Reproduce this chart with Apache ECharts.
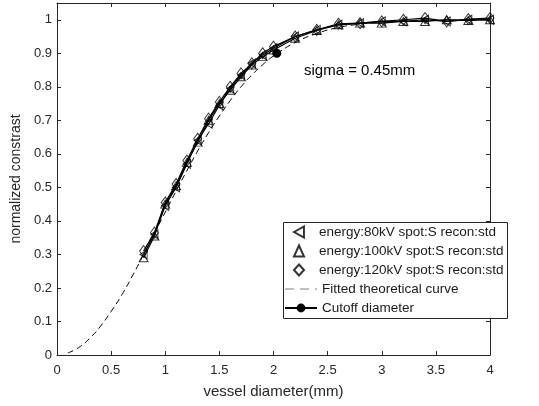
<!DOCTYPE html>
<html>
<head>
<meta charset="utf-8">
<script src="https://cdn.jsdelivr.net/npm/echarts@6/dist/echarts.min.js"></script>
<style>html,body{margin:0;padding:0;background:#fff}#c{width:539px;height:406px}</style>
</head>
<body>
<div id="c"></div>
<script>
const diam = [0.8,0.9,1.0,1.1,1.2,1.3,1.4,1.5,1.6,1.7,1.8,1.9,2.0,2.2,2.4,2.6,2.8,3.0,3.2,3.4,3.6,3.8,4.0];
const s80  = [0.30,0.36,0.445,0.50,0.57,0.64,0.69,0.745,0.795,0.835,0.87,0.895,0.915,0.95,0.97,0.985,0.99,0.995,0.995,1.0,0.995,1.0,1.0];
const s100 = [0.29,0.355,0.45,0.505,0.575,0.635,0.70,0.75,0.79,0.83,0.865,0.89,0.91,0.945,0.968,0.985,0.99,0.99,0.995,0.995,1.0,0.998,1.0];
const s120 = [0.31,0.365,0.455,0.51,0.58,0.645,0.705,0.755,0.80,0.84,0.87,0.90,0.92,0.95,0.97,0.988,0.99,0.995,1.0,1.005,0.995,1.002,1.005];
const fitX = [0.1,0.2,0.3,0.4,0.5,0.6,0.7,0.8,0.9,1.0,1.1,1.2,1.3,1.4,1.5,1.6,1.7,1.8,1.9,2.0,2.2,2.4,2.6,2.8,3.0,3.3,3.6,4.0];
const fitY = [0.006,0.022,0.049,0.085,0.13,0.18,0.238,0.30,0.363,0.426,0.489,0.55,0.609,0.663,0.713,0.759,0.80,0.835,0.866,0.892,0.932,0.959,0.977,0.987,0.993,0.998,0.999,1.0];
const cutoffX = [2.03];
const cutoffY = [0.9];
const xTicks = [0,0.5,1,1.5,2,2.5,3,3.5,4];
const yTicks = [0,0.1,0.2,0.3,0.4,0.5,0.6,0.7,0.8,0.9,1];
const names = ['energy:80kV spot:S recon:std','energy:100kV spot:S recon:std','energy:120kV spot:S recon:std','Fitted theoretical curve','Cutoff diameter'];

const pair = (xs, ys) => xs.map((x, i) => [x, ys[i]]);
const font = 'Liberation Sans, Arial, sans-serif';
const leftTri = 'path://M0,5 L9,0 L9,10 Z';
const hollow = {color: 'rgba(0,0,0,0)', borderColor: '#000', borderWidth: 1};

const chart = echarts.init(document.getElementById('c'), null, {renderer: 'canvas'});
const axisCommon = {
  axisLine: {show: true, onZero: false, lineStyle: {color: '#262626', width: 1}},
  axisTick: {show: true, inside: true, length: 4, lineStyle: {color: '#262626'}},
  splitLine: {show: false}
};
const legendText = {fontFamily: font, fontSize: 13.5, color: '#1a1a1a', lineHeight: 16};
chart.setOption({
  animation: false,
  backgroundColor: '#fff',
  grid: {left: 57, right: 49, top: 3, bottom: 51, containLabel: false},
  xAxis: [
    Object.assign({type: 'value', min: 0, max: 4, interval: 0.5, position: 'bottom',
      name: 'vessel diameter(mm)', nameLocation: 'middle', nameGap: 29,
      nameTextStyle: {fontFamily: font, fontSize: 15, color: '#262626'},
      axisLabel: {fontFamily: font, fontSize: 13, color: '#262626', margin: 9,
        formatter: v => xTicks.includes(v) ? String(v) : ''}}, axisCommon),
    Object.assign({type: 'value', min: 0, max: 4, interval: 0.5, position: 'top',
      axisLabel: {show: false}}, axisCommon)
  ],
  yAxis: [
    Object.assign({type: 'value', min: 0, max: 1.05, interval: 0.1, position: 'left',
      name: 'normalized constrast', nameLocation: 'middle', nameGap: 29,
      nameTextStyle: {fontFamily: font, fontSize: 14, color: '#262626'},
      axisLabel: {fontFamily: font, fontSize: 13, color: '#262626', margin: 5, showMaxLabel: false,
        formatter: v => { const r = Math.round(v * 10) / 10; return yTicks.some(t => Math.abs(t - v) < 1e-6) ? String(r) : ''; }}}, axisCommon),
    Object.assign({type: 'value', min: 0, max: 1.05, interval: 0.1, position: 'right',
      axisLabel: {show: false}}, axisCommon)
  ],
  legend: [
    {orient: 'vertical', left: 293, top: 224, itemWidth: 10, itemHeight: 11, itemGap: 3,
      padding: 0, textStyle: Object.assign({padding: [0, 0, 0, 10]}, legendText),
      data: names.slice(0, 3), z: 10},
    {orient: 'vertical', left: 284, top: 281, itemWidth: 32, itemHeight: 11, itemGap: 3,
      padding: 0, textStyle: legendText,
      data: [{name: names[3], lineStyle: {color: '#808080', type: [9, 6], width: 1.2}}, {name: names[4]}], z: 10}
  ],
  graphic: [
    {type: 'rect', left: 283, top: 222, z: 5,
      shape: {width: 224, height: 96}, style: {fill: '#fff', stroke: '#262626', lineWidth: 1}},
    {type: 'text', left: 304, top: 63, z: 5,
      style: {text: 'sigma = 0.45mm', fontFamily: font, fontSize: 15, fill: '#000'}}
  ],
  series: [
    {type: 'line', data: pair(diam, s80), symbol: 'none', lineStyle: {color: '#000', width: 1.2}, z: 2, silent: true},
    {type: 'line', data: pair(diam, s100), symbol: 'none', lineStyle: {color: '#000', width: 1.2}, z: 2, silent: true},
    {type: 'line', data: pair(diam, s120), symbol: 'none', lineStyle: {color: '#000', width: 1.2}, z: 2, silent: true},
    {name: names[0], type: 'scatter', data: pair(diam, s80), symbol: leftTri, symbolSize: [7, 9], itemStyle: hollow, z: 3},
    {name: names[1], type: 'scatter', data: pair(diam, s100), symbol: 'triangle', symbolSize: [9, 8], itemStyle: hollow, z: 3},
    {name: names[2], type: 'scatter', data: pair(diam, s120), symbol: 'diamond', symbolSize: [8, 11], itemStyle: hollow, z: 3},
    {name: names[3], type: 'line', data: pair(fitX, fitY), symbol: 'none', smooth: true,
      lineStyle: {color: '#000', width: 1, type: [6, 4]}, itemStyle: {color: 'rgba(0,0,0,0)', borderWidth: 0}, z: 1},
    {name: names[4], type: 'line', data: pair(cutoffX, cutoffY), symbol: 'circle', symbolSize: 9,
      lineStyle: {color: '#000', width: 1}, itemStyle: {color: '#000'}, z: 4}
  ]
});
</script>
</body>
</html>
